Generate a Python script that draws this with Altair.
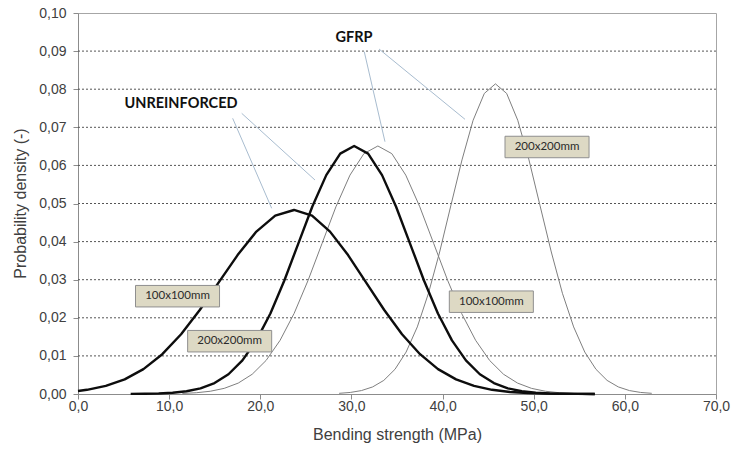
import altair as alt
import pandas as pd

# ---- data ----
ur100_x = [0, 0.98, 3.05, 5.12, 7.18, 9.25, 11.31, 13.38, 15.44, 17.51, 19.57, 21.64, 23.70,
           25.68, 27.65, 29.63, 31.60, 33.58, 35.55, 37.53, 39.50, 41.48, 43.45, 45.43, 47.40,
           49.38, 51.35, 53.33, 55.30, 56.70]
ur100_y = [0.00079, 0.00110, 0.00212, 0.00384, 0.00654, 0.01045, 0.01568, 0.02211, 0.02929,
           0.03646, 0.04262, 0.04681, 0.04830,
           0.04681, 0.04262, 0.03646, 0.02929, 0.02211, 0.01568, 0.01045, 0.00654, 0.00384,
           0.00212, 0.00110, 0.00054, 0.00025, 0.00011, 0.00004, 0.00002, 0.00001]

ur200_x = [5.78, 7.31, 8.85, 10.38, 11.91, 13.44, 14.98, 16.51, 18.04, 19.57, 21.11, 22.64,
           24.17, 25.70, 27.24, 28.77, 30.30, 31.83, 33.36, 34.90, 36.43, 37.96, 39.49, 41.03,
           42.56, 44.09, 45.63, 47.16, 48.69, 50.22, 51.76, 53.29, 54.82, 56.70]
ur200_y = [0.00002, 0.00006, 0.00014, 0.00033, 0.00072, 0.00148, 0.00286, 0.00518, 0.00881,
           0.01408, 0.02114, 0.02980, 0.03948, 0.04914, 0.05745, 0.06309, 0.06510, 0.06309,
           0.05745, 0.04914, 0.03948, 0.02980, 0.02114, 0.01408, 0.00881, 0.00518, 0.00286,
           0.00148, 0.00072, 0.00033, 0.00014, 0.00006, 0.00002, 0.00001]

gfrp100_x = [11.45, 12.98, 14.51, 16.04, 17.58, 19.11, 20.64, 22.17, 23.71, 25.24, 26.77,
             28.30, 29.84, 31.37, 32.90, 34.43, 35.96, 37.50, 39.03, 40.56, 42.09, 43.63,
             45.16, 46.69, 48.23, 49.76, 51.29, 52.82, 54.36]
gfrp100_y = [0.00014, 0.00033, 0.00072, 0.00148, 0.00286, 0.00518, 0.00881, 0.01408, 0.02114,
             0.02980, 0.03948, 0.04914, 0.05745, 0.06309, 0.06510, 0.06309, 0.05745, 0.04914,
             0.03948, 0.02980, 0.02114, 0.01408, 0.00881, 0.00518, 0.00286, 0.00148, 0.00072,
             0.00033, 0.00014]

gfrp200_x = [28.65, 29.88, 31.10, 32.33, 33.55, 34.78, 36.00, 37.23, 38.45, 39.68, 40.90,
             42.13, 43.35, 44.58, 45.80, 47.03, 48.25, 49.48, 50.70, 51.93, 53.15, 54.38,
             55.60, 56.83, 58.05, 59.28, 60.50, 61.73, 62.95]
gfrp200_y = [0.00018, 0.00041, 0.00090, 0.00186, 0.00357, 0.00648, 0.01101, 0.01761, 0.02643,
             0.03727, 0.04937, 0.06144, 0.07184, 0.07889, 0.08140, 0.07889, 0.07184, 0.06144,
             0.04937, 0.03727, 0.02643, 0.01761, 0.01101, 0.00648, 0.00357, 0.00186, 0.00090,
             0.00041, 0.00018]

x_ticks = [0, 10, 20, 30, 40, 50, 60, 70]
y_ticks = [0, 0.01, 0.02, 0.03, 0.04, 0.05, 0.06, 0.07, 0.08, 0.09, 0.10]
grid_values = [0.01, 0.02, 0.03, 0.04, 0.05, 0.06, 0.07, 0.08, 0.09]

# group labels and callout lines (data units)
group_text = ["UNREINFORCED", "GFRP"]
group_x = [11.3, 30.28]
group_y = [0.0761, 0.09344]

call_x1 = [16.97, 17.96, 31.41, 33.03]
call_y1 = [0.07236, 0.07367, 0.08984, 0.09055]
call_x2 = [21.25, 26.00, 33.68, 42.46]
call_y2 = [0.04874, 0.05617, 0.06622, 0.07210]

box_text = ["200x200mm", "100x100mm", "200x200mm", "100x100mm"]
box_cx = [51.46, 10.92, 16.64, 45.35]
box_cy = [0.06483, 0.02567, 0.01386, 0.02423]
box_hw = 4.61
box_hh = 0.00282

# ---- build tables ----
def curve_df(pairs):
    rows = []
    for name, xs, ys in pairs:
        for i, (a, b) in enumerate(zip(xs, ys)):
            rows.append({"series": name, "x": a, "y": b, "i": i})
    return pd.DataFrame(rows)

thick_df = curve_df([("ur100", ur100_x, ur100_y), ("ur200", ur200_x, ur200_y)])
thin_df = curve_df([("gfrp100", gfrp100_x, gfrp100_y), ("gfrp200", gfrp200_x, gfrp200_y)])

grid_df = pd.DataFrame({"y": grid_values})
group_df = pd.DataFrame({"t": group_text, "x": group_x, "y": group_y})
call_df = pd.DataFrame({"x": call_x1, "y": call_y1, "x2": call_x2, "y2": call_y2})
box_df = pd.DataFrame({"t": box_text, "x": box_cx, "y": box_cy})
box_df["x1"] = box_df["x"] - box_hw
box_df["x2"] = box_df["x"] + box_hw
box_df["y1"] = box_df["y"] - box_hh
box_df["y2"] = box_df["y"] + box_hh

xscale = alt.Scale(domain=[0, 70], nice=False)
yscale = alt.Scale(domain=[0, 0.1], nice=False)

xaxis = alt.Axis(values=x_ticks, grid=False, title="Bending strength (MPa)",
                 labelExpr="replace(format(datum.value, '.1f'), '.', ',')",
                 labelFlush=False, labelOverlap=False,
                 labelPadding=0, titlePadding=13)
yaxis = alt.Axis(values=y_ticks, grid=False, title="Probability density (-)",
                 labelExpr="replace(format(datum.value, '.2f'), '.', ',')",
                 labelFlush=False, labelOverlap=False,
                 labelPadding=7, titleX=-50, titleY=190, titleAngle=270,
                 titleBaseline="bottom", titleAlign="center")


def X(field):
    return alt.X(field, type="quantitative", scale=xscale, axis=xaxis,
                 title="Bending strength (MPa)")


def Y(field):
    return alt.Y(field, type="quantitative", scale=yscale, axis=yaxis,
                 title="Probability density (-)")


grid = alt.Chart(grid_df).mark_rule(color="#555555", strokeDash=[2, 2], strokeWidth=1).encode(
    y=Y("y")
)

thin_lines = alt.Chart(thin_df).mark_line(color="#7f7f7f", strokeWidth=1.0,
                                          strokeJoin="round").encode(
    x=X("x"), y=Y("y"), detail="series:N", order="i:Q",
)

thick_lines = alt.Chart(thick_df).mark_line(color="#0d0d0d", strokeWidth=2.4,
                                            strokeJoin="round").encode(
    x=X("x"), y=Y("y"), detail="series:N", order="i:Q",
)

callouts = alt.Chart(call_df).mark_rule(color="#a8bccf", strokeWidth=1).encode(
    x=X("x"), y=Y("y"), x2="x2:Q", y2="y2:Q",
)

group_labels = alt.Chart(group_df).mark_text(font="Lato", fontSize=14.5, fontWeight="bold",
                                             color="#111111", align="center",
                                             baseline="middle").encode(
    x=X("x"), y=Y("y"), text="t:N"
)

boxes = alt.Chart(box_df).mark_rect(fill="#ddd9c4", stroke="#8f8f8f", strokeWidth=1).encode(
    x=X("x1"), x2="x2:Q", y=Y("y1"), y2="y2:Q",
)

box_labels = alt.Chart(box_df).mark_text(font="Lato", fontSize=11.5, color="#2b2b2b",
                                         align="center", baseline="middle").encode(
    x=X("x"), y=Y("y"), text="t:N"
)

chart = alt.layer(grid, thin_lines, thick_lines, callouts, group_labels, boxes,
                  box_labels).properties(
    width=638, height=381,
    padding={"left": 78, "top": 13, "right": 17, "bottom": 58},
    autosize=alt.AutoSizeParams(type="none"),
    background="white",
).configure_view(stroke="#a6a6a6", strokeWidth=1).configure_axis(
    labelFont="Liberation Sans", labelFontSize=14, labelColor="#404040",
    titleFont="Liberation Sans", titleFontSize=16, titleFontWeight="normal", titleColor="#404040",
    domainColor="#8c8c8c", tickColor="#8c8c8c", tickSize=5,
)

chart.save("out.html", embed_options={"renderer": "svg", "actions": False})
